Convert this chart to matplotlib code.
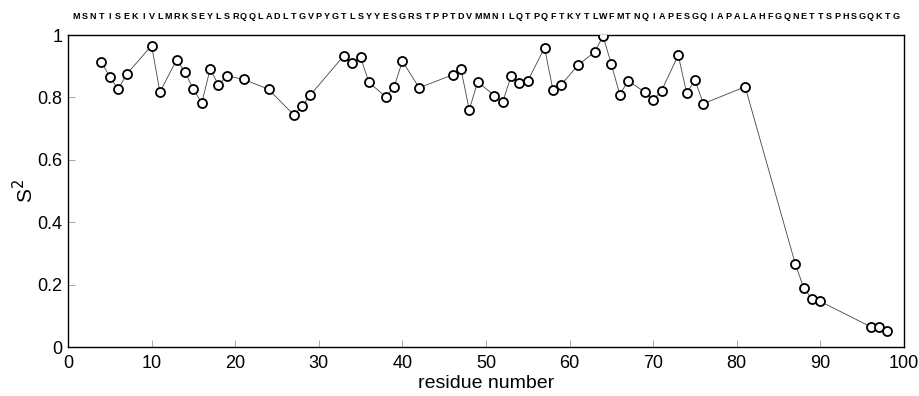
import matplotlib
matplotlib.use("Agg")
import matplotlib.pyplot as plt

plt.rcParams['font.family'] = ['Liberation Sans', 'DejaVu Sans']

sequence = "MSNTISEKIVLMRKSEYLSRQQLADLTGVPYGTLSYYESGRSTPPTDVMMNILQTPQFTKYTLWFMTNQIAPESGQIAPALAHFGQNETTSPHSGQKTG"

residues = [4, 5, 6, 7, 10, 11, 13, 14, 15, 16, 17, 18, 19, 21, 24, 27, 28, 29,
            33, 34, 35, 36, 38, 39, 40, 42, 46, 47, 48, 49, 51, 52, 53, 54, 55,
            57, 58, 59, 61, 63, 64, 65, 66, 67, 69, 70, 71, 73, 74, 75, 76, 81,
            87, 88, 89, 90, 96, 97, 98]
s2 = [0.913, 0.866, 0.826, 0.874, 0.966, 0.817, 0.921, 0.881, 0.826, 0.782,
      0.891, 0.840, 0.869, 0.858, 0.826, 0.744, 0.772, 0.808,
      0.934, 0.910, 0.928, 0.848, 0.802, 0.833, 0.916, 0.831,
      0.872, 0.891, 0.760, 0.850, 0.806, 0.786, 0.868, 0.847, 0.853,
      0.959, 0.825, 0.841, 0.903, 0.946, 0.996, 0.906, 0.809, 0.853,
      0.817, 0.791, 0.822, 0.935, 0.814, 0.855, 0.780, 0.834,
      0.266, 0.190, 0.153, 0.146, 0.065, 0.064, 0.052]

xticks = [0, 10, 20, 30, 40, 50, 60, 70, 80, 90, 100]
yticks = [0, 0.2, 0.4, 0.6, 0.8, 1]
ytick_labels = ["0", "0.2", "0.4", "0.6", "0.8", "1"]

fig = plt.figure(figsize=(9.2, 3.96), dpi=100)
ax = fig.add_axes([68/920, 49/396, 836/920, 312/396])

ax.plot(residues, s2, '-', color='#444444', lw=0.6, zorder=2)
ax.plot(residues, s2, 'o', ls='none', ms=6.5, mfc='white', mec='black', mew=1.3, zorder=3)

ax.set_xlim(0, 100)
ax.set_ylim(0, 1)
ax.set_xticks(xticks)
ax.set_xticklabels([str(t) for t in xticks])
ax.set_yticks(yticks)
ax.set_yticklabels(ytick_labels)
ax.tick_params(direction='in', length=5, width=0.6, color='#999999',
               labelsize=13, top=False, right=False)
ax.tick_params(axis='x', pad=6)
ax.tick_params(axis='y', pad=4)
for sp in ax.spines.values():
    sp.set_linewidth(1.0)
    sp.set_color('black')

ax.set_xlabel("residue number", fontsize=14, labelpad=2)
ax.set_ylabel("S$^2$", fontsize=15, labelpad=0)

for i, ch in enumerate(sequence):
    ax.text(i + 1, 1.058, ch, ha='center', va='center', fontsize=6.5,
            fontweight='bold', transform=ax.get_xaxis_transform(), clip_on=False)

fig.savefig("out.png", dpi=100)
